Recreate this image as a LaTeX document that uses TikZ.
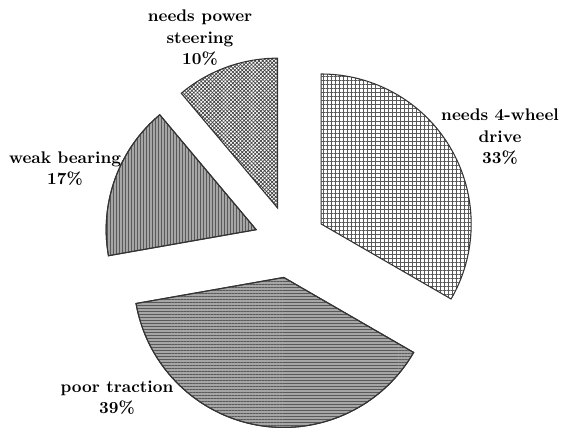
\documentclass[tikz,border=0pt]{standalone}
\usepackage{tikz}
\usetikzlibrary{patterns.meta, calc}
\tikzset{slice/.style={draw=black!80, line width=0.6pt},
  lbl/.style={align=center, inner sep=0pt, font=\fontsize{9.6}{12.2}\selectfont\bfseries}}

\begin{document}
\begin{tikzpicture}[x=0.02cm, y=0.02cm]
\useasboundingbox (0,0) rectangle (568,428);

\coordinate (c) at (290,186);
\def\rad{150}

% exploded slices
\coordinate (wd) at ($(c)+(30:36)$);
\coordinate (ps) at ($(c)+(110:36)$);
\coordinate (wb) at ($(c)+(160:36)$);
\coordinate (pt) at ($(c)+(260:36)$);

\begin{scope}[every path/.style={slice}]
\path[pattern={Hatch[angle=0, distance=2.3pt, line width=0.4pt]}, pattern color=black!65]
  (wd) -- ++(-30:\rad) arc (-30:90:\rad) -- cycle;
\path[pattern={Hatch[angle=45, distance=1.5pt, line width=0.4pt]}, pattern color=black!75]
  (ps) -- ++(90:\rad) arc (90:130:\rad) -- cycle;
\path[fill=black!35] (wb) -- ++(130:\rad) arc (130:190:\rad) -- cycle;
\path[pattern={Lines[angle=90, distance=1.7pt, line width=0.4pt]}, pattern color=black!65]
  (wb) -- ++(130:\rad) arc (130:190:\rad) -- cycle;
\path[fill=black!35] (pt) -- ++(190:\rad) arc (190:330:\rad) -- cycle;
\path[pattern={Lines[angle=0, distance=1.7pt, line width=0.4pt]}, pattern color=black!65]
  (pt) -- ++(190:\rad) arc (190:330:\rad) -- cycle;
\end{scope}

\node[lbl] (l4wd) at (500,291) {needs 4-wheel\\drive\\33\%};
\node[lbl] (lsteer) at (200,390) {needs power\\steering\\10\%};
\node[lbl] (lbear) at (65,259.5) {weak bearing\\17\%};
\node[lbl] (ltrac) at (117,30.5) {poor traction\\39\%};

\end{tikzpicture}
\end{document}
